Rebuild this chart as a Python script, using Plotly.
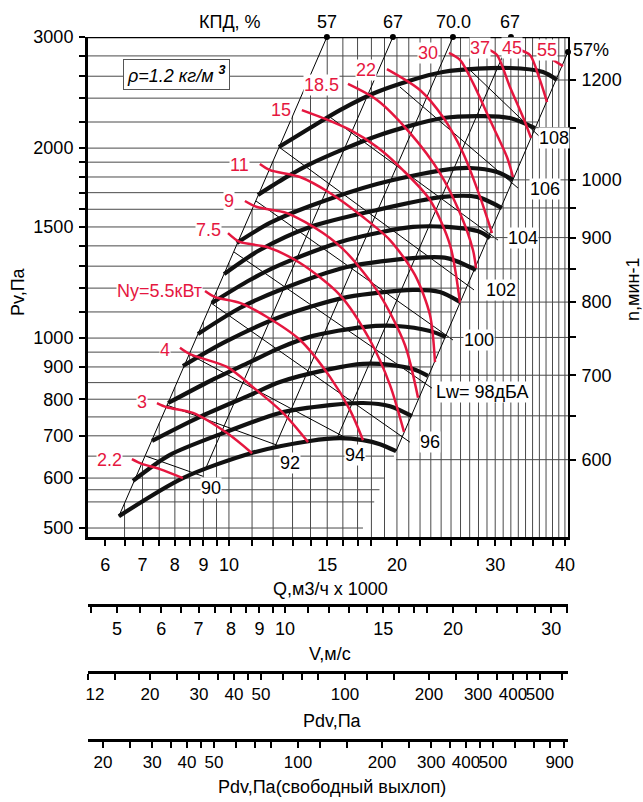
import math
import plotly.graph_objects as go

W, H = 643, 802
RED = "#e5173f"
FONT = "Liberation Sans, Arial, sans-serif"

# axis ranges (Q in 1000 m3/h, P in Pa, n in 1/min)
Q_RANGE = (5.59, 40.51)
P_RANGE = (483.9, 3000)
N_RANGE = (521, 1298)
V_RANGE = (4.436, 32.15)
PDV_RANGE = (12.0, 630)
PDV_FREE_RANGE = (17.67, 928)

Q_TICKS = [6, 6.5, 7, 7.5, 8, 8.5, 9, 9.5, 10, 11, 12, 13, 14, 15, 16, 17, 18, 20,
           22, 25, 28, 30, 32, 35, 38, 40]
Q_LABELS = [6, 7, 8, 9, 10, 15, 20, 30, 40]
P_TICKS = [500, 600, 700, 800, 900, 1000, 1100, 1200, 1300, 1400, 1500, 1600, 1700,
           1800, 1900, 2000, 2200, 2400, 2600, 2800, 3000]
P_LABELS = [500, 600, 700, 800, 900, 1000, 1500, 2000, 3000]
N_TICKS = [600, 650, 700, 750, 800, 850, 900, 950, 1000, 1100, 1200]
N_LABELS = [600, 700, 800, 900, 1000, 1200]
V_TICKS = [4.5, 5, 5.5, 6, 6.5, 7, 7.5, 8, 8.5, 9, 9.5, 10, 11, 12, 13, 14, 15, 16, 17,
           18, 20, 22, 24, 26, 28, 30, 32]
V_LABELS = [5, 6, 7, 8, 9, 10, 15, 20, 30]
PDV_TICKS = [12, 15, 20, 25, 30, 35, 40, 45, 50, 60, 70, 80, 100, 120, 150, 200, 250,
             300, 350, 400, 450, 500, 600]
PDV_LABELS = [12, 20, 30, 40, 50, 100, 200, 300, 400, 500]
PDVF_TICKS = [20, 25, 30, 35, 40, 45, 50, 60, 70, 80, 100, 120, 150, 200, 250, 300,
              350, 400, 450, 500, 600, 700, 800, 900]
PDVF_LABELS = [20, 30, 40, 50, 100, 200, 300, 400, 500, 900]

# background grid
GRID_P = [500, 550, 575, 600, 650, 700, 750, 800, 850, 900, 950, 1000, 1100, 1200, 1300,
          1400, 1500, 1600, 1700, 1800, 1900, 2000, 2200, 2400, 2600, 2800]
GRID_Q = [6.5, 7, 7.5, 8, 8.5, 9, 9.5] + list(range(10, 41))

# fan curves, one per speed
FAN_SPEEDS = [600, 650, 700, 750, 800, 850, 900, 950, 1000, 1100, 1200]
FAN_Q = [
    [6.35, 8.27, 10.95, 13.97, 15.81, 17.39, 18.65, 19.93],
    [6.73, 7.84, 9.76, 12.34, 15.17, 17.39, 19.43, 21.28],
    [7.28, 8.87, 10.9, 12.34, 15.17, 17.39, 19.43, 21.37, 22.73],
    [7.78, 9.25, 10.9, 12.34, 14.15, 17.39, 20.0, 22.92, 24.48],
    [8.27, 9.84, 12.34, 16.27, 21.37, 23.88, 25.94],
    [8.80, 10.46, 12.34, 16.27, 21.37, 24.59, 27.72],
    [9.32, 10.9, 12.34, 16.27, 21.37, 24.59, 28.18, 29.36],
    [9.80, 11.36, 13.97, 18.42, 24.18, 27.83, 30.85],
    [10.33, 11.84, 13.97, 18.42, 24.18, 27.04, 30.22, 32.28],
    [11.27, 12.60, 13.97, 18.42, 24.18, 28.53, 31.88, 35.35],
    [12.29, 13.97, 15.81, 18.42, 24.18, 31.88, 36.54, 38.71],
]
FAN_P = [
    [522, 600, 657, 687, 694, 689, 679, 662],
    [594, 653, 707, 761, 783, 789, 780, 752],
    [687, 750, 812, 852, 893, 910, 907, 893, 871],
    [789, 855, 916, 965, 1008, 1041, 1045, 1026, 1004],
    [903, 986, 1080, 1161, 1192, 1183, 1141],
    [1015, 1116, 1192, 1296, 1339, 1339, 1282],
    [1137, 1236, 1306, 1430, 1500, 1500, 1473, 1441],
    [1263, 1379, 1500, 1596, 1674, 1674, 1607],
    [1415, 1522, 1619, 1755, 1846, 1860, 1833, 1781],
    [1686, 1794, 1887, 2091, 2232, 2248, 2232, 2152],
    [2008, 2152, 2298, 2455, 2640, 2679, 2640, 2565],
]

# motor power curves, kW
POWER_LABELS = ["2.2", "3", "4", "Ny=5.5кВт", "7.5", "9", "11", "15", "18.5", "22",
                "30", "37", "45", "55"]
POWER_Q = [
    [6.70, 6.98, 7.52, 8.27],
    [7.43, 7.74, 8.62, 9.92, 11.0],
    [8.17, 8.51, 9.92, 11.04, 12.50, 13.86],
    [9.06, 9.44, 10.46, 11.70, 13.41, 15.17, 16.48, 17.39],
    [9.96, 10.46, 11.70, 13.41, 15.81, 17.89, 19.43, 20.59],
    [10.68, 11.23, 12.70, 14.74, 16.27, 18.65, 20.67, 21.82],
    [11.36, 11.84, 13.41, 15.17, 17.39, 19.43, 21.54, 22.92, 23.40],
    [13.51, 14.74, 16.48, 18.42, 20.50, 22.92, 24.90, 25.94],
    [16.34, 18.42, 21.10, 23.88, 25.94, 27.37, 27.72],
    [19.19, 21.99, 24.18, 26.27, 28.18, 29.60],
    [24.79, 25.94, 27.37, 29.36, 31.49, 32.28],
    [29.12, 30.22, 31.88, 33.64, 34.77],
    [33.22, 34.63, 36.08, 37.15],
    [38.08, 39.68],
]
POWER_P = [
    [643, 632, 620, 600],
    [789, 777, 761, 707, 657],
    [965, 943, 900, 836, 761, 684],
    [1187, 1161, 1137, 1080, 993, 868, 769, 689],
    [1467, 1420, 1394, 1315, 1170, 993, 843, 710],
    [1649, 1613, 1578, 1467, 1364, 1170, 975, 804],
    [1887, 1846, 1800, 1698, 1555, 1430, 1259, 1088, 916],
    [2298, 2232, 2137, 2008, 1846, 1655, 1404, 1137],
    [2528, 2384, 2114, 1826, 1578, 1379, 1291],
    [2669, 2473, 2240, 1965, 1674, 1467],
    [2830, 2759, 2537, 2216, 1936, 1800],
    [2871, 2809, 2500, 2240, 2076],
    [2861, 2809, 2565, 2366],
    [2759, 2698],
]

# sound power lines, dBA
NOISE_LW = [90, 92, 94, 96, 98, 100, 102, 104, 106, 108]
NOISE_Q = [[7.10, 8.98], [7.74, 12.45], [8.48, 16.34], [9.28, 21.10], [10.21, 23.11],
           [11.18, 25.20], [12.29, 27.49], [15.17, 30.34], [20.25, 32.95], [27.04, 36.08]]
NOISE_P = [[650, 604], [783, 672], [943, 692], [1137, 684], [1369, 833],
           [1649, 993], [2008, 1192], [2240, 1430], [2500, 1729], [2659, 2083]]

# efficiency lines, %
EFF_LABELS = ["57", "67", "70.0", "67", "57%"]
EFF_Q = [[14.98, 6.35], [19.67, 9.06], [25.20, 12.04], [32.01, 15.62], [40.51, 19.93]]
EFF_P = [[3000, 522], [3000, 618], [3000, 667], [3000, 694], [2841, 662]]


def lg(v):
    return math.log10(v)


def along(v, a0, b0, a1, b1):
    # value on the log-log straight line through (a0, b0) and (a1, b1)
    t = (lg(v) - lg(a0)) / (lg(a1) - lg(a0))
    return 10 ** (lg(b0) + t * (lg(b1) - lg(b0)))


def px(x):
    return x / W


def py(y):
    return 1 - y / H


fig = go.Figure()

# vertical grid, cut at the left 57% line
left = (EFF_Q[0][0], EFF_P[0][0], EFF_Q[0][1], EFF_P[0][1])
gx, gy = [], []
for q in GRID_Q:
    top = P_RANGE[1] if q >= left[0] else along(q, *left)
    if top > P_RANGE[0]:
        gx += [q, q, None]
        gy += [P_RANGE[0], min(top, P_RANGE[1]), None]
fig.add_trace(go.Scatter(x=gx, y=gy, mode="lines", line=dict(color="#4a4a4a", width=1),
                         hoverinfo="skip"))

# horizontal grid, cut at the right 57% line
right = (EFF_P[4][0], EFF_Q[4][0], EFF_P[4][1], EFF_Q[4][1])
gx, gy = [], []
for p in GRID_P:
    qr = min(along(p, *right), Q_RANGE[1])
    gx += [Q_RANGE[0], qr, None]
    gy += [p, p, None]
fig.add_trace(go.Scatter(x=gx, y=gy, mode="lines", line=dict(color="#4a4a4a", width=1),
                         hoverinfo="skip"))

# speed lines from the end of each fan curve to the n axis
gx, gy = [], []
for qs, n in zip(FAN_Q, FAN_SPEEDS):
    gx += [qs[-1], Q_RANGE[1], None]
    gy += [n, n, None]
fig.add_trace(go.Scatter(x=gx, y=gy, yaxis="y2", mode="lines",
                         line=dict(color="#4a4a4a", width=1), hoverinfo="skip"))

# top border
fig.add_trace(go.Scatter(x=list(Q_RANGE), y=[P_RANGE[1]] * 2, mode="lines",
                         line=dict(color="black", width=2.5), hoverinfo="skip"))

for qs, ps in zip(NOISE_Q, NOISE_P):
    fig.add_trace(go.Scatter(x=qs, y=ps, mode="lines", line=dict(color="black", width=1),
                             hoverinfo="skip"))

for qs, ps in zip(EFF_Q, EFF_P):
    fig.add_trace(go.Scatter(x=qs, y=ps, mode="lines", line=dict(color="black", width=1),
                             hoverinfo="skip"))
fig.add_trace(go.Scatter(x=[q[0] for q in EFF_Q], y=[p[0] for p in EFF_P], mode="markers",
                         marker=dict(color="black", size=6), cliponaxis=False,
                         hoverinfo="skip"))

for qs, ps in zip(FAN_Q, FAN_P):
    fig.add_trace(go.Scatter(x=qs, y=ps, mode="lines",
                             line=dict(color="#111", width=4.2, shape="spline", smoothing=0.8),
                             hoverinfo="skip"))

for qs, ps in zip(POWER_Q, POWER_P):
    fig.add_trace(go.Scatter(x=qs, y=ps, mode="lines",
                             line=dict(color=RED, width=2.5, shape="spline", smoothing=0.8),
                             hoverinfo="skip"))

# invisible traces so the extra velocity / pressure scales are drawn
for ax, vals in (("x2", V_LABELS), ("x3", PDV_LABELS), ("x4", PDVF_LABELS)):
    fig.add_trace(go.Scatter(x=vals, y=[1000] * len(vals), xaxis=ax, mode="markers",
                             marker=dict(opacity=0), hoverinfo="skip"))


def tick_text(ticks, labels):
    return [str(t) if t in labels else "" for t in ticks]


pdv_text = tick_text(PDV_TICKS, PDV_LABELS)
pdv_text[0] = "\u00a0\u00a0\u00a012"          # first label sits just inside the axis
pdvf_text = tick_text(PDVF_TICKS, PDVF_LABELS)
pdvf_text[-1] = "900\u00a0\u00a0"

tick_common = dict(ticks="outside", ticklen=6, tickwidth=1.5, tickcolor="black",
                   showgrid=False, zeroline=False, showline=True, linecolor="black",
                   automargin=False, tickangle=0)


def extra_axis(rng, ticks, text, y, size):
    return dict(type="log", range=[lg(rng[0]), lg(rng[1])], overlaying="x", anchor="free",
                position=py(y), side="bottom", tickvals=ticks, ticktext=text,
                linewidth=3, ticklabelstandoff=0, tickfont=dict(size=size), **tick_common)


fig.update_layout(
    width=W, height=H, margin=dict(l=0, r=0, t=0, b=0, autoexpand=False),
    paper_bgcolor="white", plot_bgcolor="white", showlegend=False,
    font=dict(family=FONT, size=18, color="black"),
    xaxis=dict(type="log", range=[lg(Q_RANGE[0]), lg(Q_RANGE[1])], domain=[px(88), px(568)],
               anchor="y", tickvals=Q_TICKS, ticktext=tick_text(Q_TICKS, Q_LABELS),
               linewidth=3, ticklabelstandoff=3, **tick_common),
    yaxis=dict(type="log", range=[lg(P_RANGE[0]), lg(P_RANGE[1])], domain=[py(537), py(37)],
               anchor="x", tickvals=P_TICKS, ticktext=tick_text(P_TICKS, P_LABELS),
               linewidth=3, ticklabelstandoff=2, **tick_common),
    yaxis2=dict(type="log", range=[lg(N_RANGE[0]), lg(N_RANGE[1])], overlaying="y",
                side="right", anchor="x", tickvals=N_TICKS,
                ticktext=tick_text(N_TICKS, N_LABELS), linewidth=2, ticklabelstandoff=2,
                **tick_common),
    xaxis2=extra_axis(V_RANGE, V_TICKS, tick_text(V_TICKS, V_LABELS), 605, 18),
    xaxis3=extra_axis(PDV_RANGE, PDV_TICKS, pdv_text, 672, 17),
    xaxis4=extra_axis(PDV_FREE_RANGE, PDVF_TICKS, pdvf_text, 740, 17),
)

notes = [
    ("Q,м3/ч x 1000", 330, 589, "black", None, 0),
    ("V,м/с", 330, 654, "black", None, 0),
    ("Pdv,Па", 332, 721, "black", None, 0),
    ("Pdv,Па(свободный выхлоп)", 332, 787, "black", None, 0),
    ("Pv,Па", 18, 292, "black", None, -90),
    ("n,мин-1", 633, 290, "black", None, -90),
    ("КПД, %", 230, 22, "black", None, 0),
    ("57", 327, 22, "black", None, 0),
    ("67", 393, 22, "black", None, 0),
    ("70.0", 453, 22, "black", None, 0),
    ("67", 510, 22, "black", None, 0),
    ("57%", 591, 50, "black", None, 0),
]
# sound power labels
noise_pos = [(211, 488), (290, 463), (355, 455), (430, 442), (482, 392), (479, 340),
             (501, 290), (523, 238), (545, 189), (554, 138)]
for lw, (x, y) in zip(NOISE_LW, noise_pos):
    txt = "Lw= %d\u0434\u0411\u0410" % lw if lw == 98 else str(lw)
    notes.append((txt, x, y, "black", "white", 0))
# power labels
power_pos = [(109, 460), (142, 402), (165, 350), (159, 291), (208, 230), (229, 201),
             (239, 165), (281, 110), (321, 85), (366, 70), (428, 53), (480, 48),
             (512, 48), (547, 50)]
for lab, (x, y) in zip(POWER_LABELS, power_pos):
    notes.append((lab, x, y, RED, "white", 0))

for txt, x, y, col, bg, ang in notes:
    fig.add_annotation(x=px(x), y=py(y), xref="paper", yref="paper", text=txt,
                       showarrow=False, textangle=ang, font=dict(color=col, size=18),
                       bgcolor=bg, borderpad=0, xanchor="center", yanchor="middle")

fig.add_annotation(x=px(176), y=py(74), xref="paper", yref="paper",
                   text="<i>\u03c1=1.2 кг/м</i> <sup><b><i>3</i></b></sup>",
                   showarrow=False, font=dict(size=18), bgcolor="white",
                   bordercolor="#555", borderwidth=1, borderpad=3,
                   xanchor="center", yanchor="middle")

# the page body has a default margin; drop it so the figure fills the window
fig.write_html("out.html", config={"displayModeBar": False},
               post_script="document.body.style.margin='0';"
                           "document.body.style.overflow='hidden';")
